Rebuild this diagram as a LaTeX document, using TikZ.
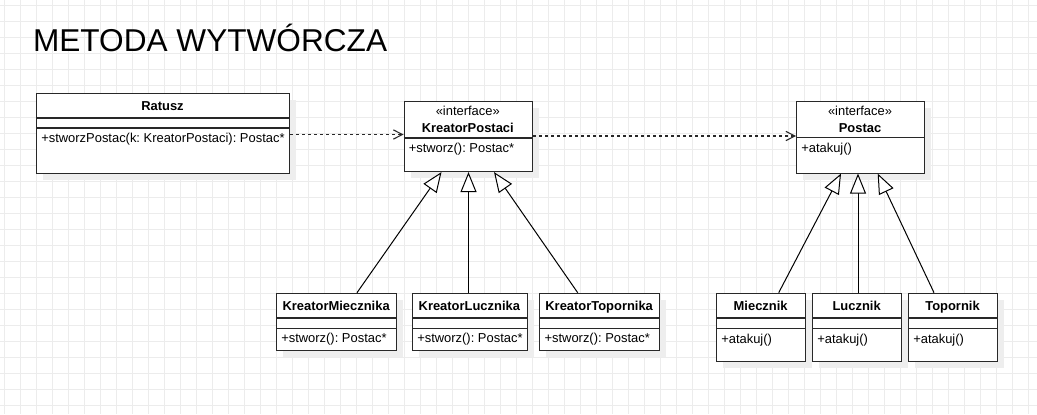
\documentclass[tikz,border=0pt]{standalone}
\usepackage{fontspec}
\setmainfont{Liberation Sans}
\usetikzlibrary{arrows.meta,calc}
\definecolor{gridc}{RGB}{236,236,236}
\definecolor{shadowc}{RGB}{238,238,238}
\definecolor{linec}{RGB}{40,40,40}
\frenchspacing
\newcommand\fs{\fontsize{9.7pt}{11pt}\selectfont}
\tikzset{
  gridline/.style={draw=gridc, line width=0.75pt},
  box/.style={draw=linec, line width=0.8pt, fill=white, rectangle, inner sep=0pt, anchor=north west},
  sepline/.style={draw=linec, line width=0.8pt},
  cname/.style={font=\bfseries\fs, anchor=base, inner sep=0pt},
  stereo/.style={font=\fs, anchor=base, inner sep=0pt},
  attr/.style={font=\fs, anchor=base west, inner sep=0pt},
  dep/.style={draw=linec, line width=0.8pt, dash pattern=on 2.4pt off 2.1pt,
    -{Straight Barb[length=6.75pt,width=7pt,line width=0.8pt]}},
  inh/.style={draw=black, line width=0.75pt,
    -{Triangle[length=15pt,width=12pt,fill=white,line width=0.75pt]}}
}
% name, x, y, w, h (pixel units)
\newcommand\umlbox[5]{%
  \fill[shadowc] (#2+7,#3+7) rectangle (#2+#4+7,#3+#5+7);
  \node[box, minimum width=#4*0.75pt, minimum height=#5*0.75pt] (#1) at (#2,#3) {};}
% x, y, w
\newcommand\umlsep[3]{\draw[sepline] (#1,#2) -- (#1+#3,#2);}
\begin{document}
\begin{tikzpicture}[x=0.75pt,y=-0.75pt]
\useasboundingbox (0,0) rectangle (1037,414);
\fill[white] (0,0) rectangle (1037,414);
\foreach \i in {0,...,64} \draw[gridline] (4.3+16*\i,0) -- (4.3+16*\i,414);
\foreach \j in {0,...,25} \draw[gridline] (0,5.3+16*\j) -- (1037,5.3+16*\j);

\node[anchor=base west, inner sep=0pt, font=\fontsize{23.7pt}{28pt}\selectfont] (title) at (32.8,51.7) {METODA WYTWÓRCZA};

% Ratusz
\umlbox{ra}{36}{93}{253}{80}
\umlsep{36}{118}{253}
\umlsep{36}{128}{253}
\node[cname] (raname) at (162.5,110.5) {Ratusz};
\node[attr] (raattr) at (41,142.3) {+stworzPostac(k: KreatorPostaci): Postac*};

% KreatorPostaci
\umlbox{kp}{403.5}{101}{128.5}{70}
\umlsep{403.5}{138}{128.5}
\node[stereo] (kpst) at (467.75,115.3) {«interface»};
\node[cname] (kpname) at (467.75,132) {KreatorPostaci};
\node[attr] (kpattr) at (408.5,152) {+stworz(): Postac*};

% Postac
\umlbox{po}{796}{101}{128}{71.5}
\umlsep{796}{137.5}{128}
\node[stereo] (post) at (860,115.3) {«interface»};
\node[cname] (poname) at (860,132) {Postac};
\node[attr] (poattr) at (801,152.5) {+atakuj()};

% Creators
\umlbox{km}{276}{292.7}{120.3}{57.3}
\umlsep{276}{318}{120.3}
\umlsep{276}{328.3}{120.3}
\node[cname] (kmname) at (336.15,310.7) {KreatorMiecznika};
\node[attr] (kmattr) at (281,342.3) {+stworz(): Postac*};

\umlbox{kl}{412}{292.7}{114.7}{57.3}
\umlsep{412}{318}{114.7}
\umlsep{412}{328.3}{114.7}
\node[cname] (klname) at (469.35,310.7) {KreatorLucznika};
\node[attr] (klattr) at (417,342.3) {+stworz(): Postac*};

\umlbox{kt}{539.3}{292.7}{119.7}{57.3}
\umlsep{539.3}{318}{119.7}
\umlsep{539.3}{328.3}{119.7}
\node[cname] (ktname) at (599.15,310.7) {KreatorTopornika};
\node[attr] (ktattr) at (544.3,342.3) {+stworz(): Postac*};

% Characters
\umlbox{mi}{716}{292.7}{89.3}{68}
\umlsep{716}{318}{89.3}
\umlsep{716}{328.3}{89.3}
\node[cname] (miname) at (760.65,310.7) {Miecznik};
\node[attr] (miattr) at (721,343) {+atakuj()};

\umlbox{lu}{812}{292.7}{89.3}{68}
\umlsep{812}{318}{89.3}
\umlsep{812}{328.3}{89.3}
\node[cname] (luname) at (856.65,310.7) {Lucznik};
\node[attr] (luattr) at (817,343) {+atakuj()};

\umlbox{to}{908}{292.7}{89}{68}
\umlsep{908}{318}{89}
\umlsep{908}{328.3}{89}
\node[cname] (toname) at (952.5,310.7) {Topornik};
\node[attr] (toattr) at (913,343) {+atakuj()};

% Dependencies
\draw[dep] (ra.east |- 0,134.5) -- (kp.west |- 0,134.5);
\draw[dep] (kp.east |- 0,136) -- (po.west |- 0,136);

% Realizations
\draw[inh] (km.north -| 357,0) -- (kp.south -| 441.5,0);
\draw[inh] (kl.north -| 468.5,0) -- (kp.south -| 468.5,0);
\draw[inh] (kt.north -| 577.7,0) -- (kp.south -| 494,0);
\draw[inh] (mi.north -| 778.7,0) -- (po.south -| 841,0);
\draw[inh] (lu.north -| 858,0) -- (po.south -| 858,0);
\draw[inh] (to.north -| 934,0) -- (po.south -| 877.7,0);
\end{tikzpicture}
\end{document}
